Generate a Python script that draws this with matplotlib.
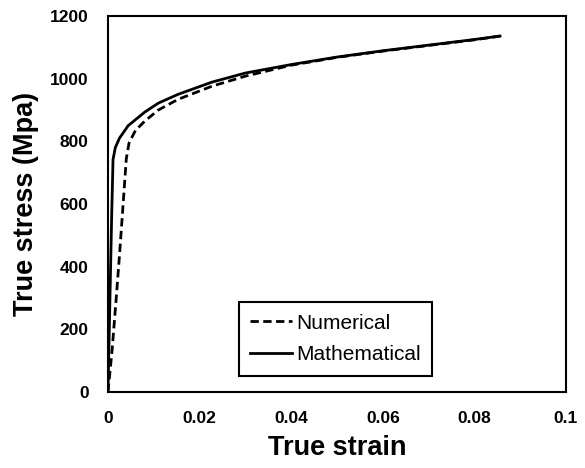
import numpy as np
import matplotlib
matplotlib.use('Agg')
import matplotlib.pyplot as plt

plt.rcParams['font.family'] = ['Liberation Sans', 'DejaVu Sans']

# values (strain, MPa)
num_strain = [0.0, 0.0009, 0.0018, 0.0026, 0.0034, 0.0040, 0.0046, 0.0060, 0.0080,
              0.0110, 0.0153, 0.0227, 0.030, 0.040, 0.050, 0.060, 0.070, 0.080, 0.0856]
num_stress = [0, 134, 300, 454, 620, 745, 795, 835, 864,
              900, 934, 976, 1008, 1043, 1068, 1088, 1106, 1124, 1136]

math_strain = [0.0, 0.0004, 0.0008, 0.0011, 0.0016, 0.0025, 0.0044, 0.0080,
               0.0110, 0.0153, 0.0227, 0.030, 0.040, 0.050, 0.060, 0.070, 0.080, 0.0856]
math_stress = [0, 280, 560, 742, 780, 810, 850, 893,
               922, 950, 989, 1018, 1045, 1069, 1089, 1107, 1125, 1136]

fig = plt.figure(figsize=(5.85, 4.68), dpi=100)
ax = fig.add_axes([0.1846, 0.1624, 0.7829, 0.8034])

ax.plot(num_strain, num_stress, color='black', linestyle=(0, (3, 1.6)), linewidth=2, label='Numerical')
ax.plot(math_strain, math_stress, color='black', linestyle='-', linewidth=2, label='Mathematical')

ax.set_xlim(0, 0.1)
ax.set_ylim(0, 1200)
ax.set_xticks(np.arange(0, 0.101, 0.02))
ax.set_xticklabels(['0', '0.02', '0.04', '0.06', '0.08', '0.1'])
ax.set_yticks(np.arange(0, 1201, 200))
ax.tick_params(length=0, pad=14, labelsize=12.5)
for lbl in ax.get_xticklabels() + ax.get_yticklabels():
    lbl.set_fontweight('bold')
for sp in ax.spines.values():
    sp.set_linewidth(1.5)

ax.set_xlabel('True strain', fontsize=19.5, fontweight='bold', labelpad=6)
ax.set_ylabel('True stress (Mpa)', fontsize=19.5, fontweight='bold', labelpad=8)

leg = ax.legend(loc='center', bbox_to_anchor=(0.268, 0.045, 0.457, 0.192),
                fontsize=15, frameon=True, fancybox=False, edgecolor='black',
                framealpha=1, handlelength=2.0, handletextpad=0.2,
                borderpad=0.55, labelspacing=0.6)
leg.get_frame().set_linewidth(1.5)

fig.savefig('out.png', dpi=100)
